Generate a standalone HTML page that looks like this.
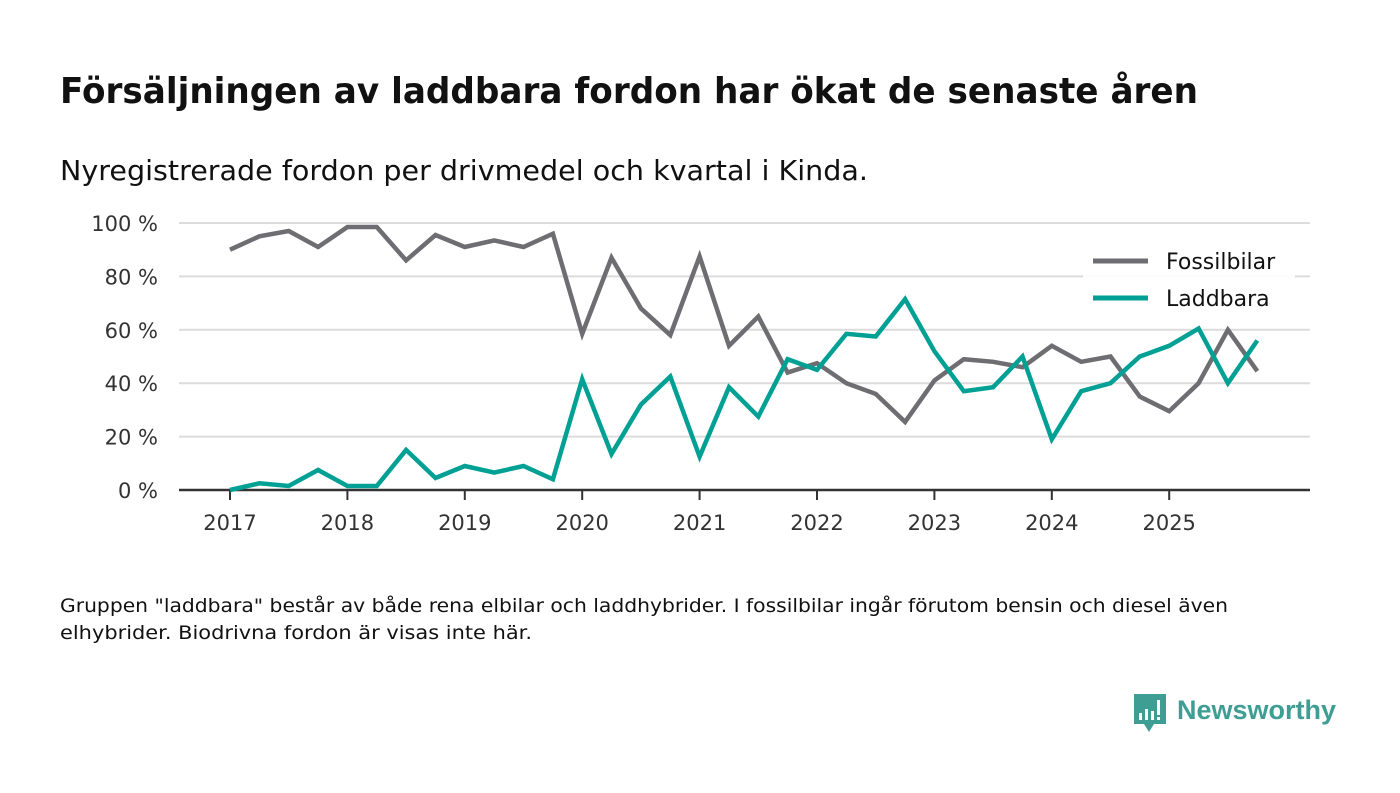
<!DOCTYPE html>
<html><head><meta charset="utf-8"><style>
html,body{margin:0;padding:0;background:#fff;}
svg{display:block;font-family:"DejaVu Sans","Liberation Sans",sans-serif;}
</style></head><body>
<svg id="chart" width="1400" height="793" viewBox="0 0 1400 793" xmlns="http://www.w3.org/2000/svg">
<text x="60" y="103" font-size="36" font-weight="bold" fill="#111" textLength="1138" lengthAdjust="spacingAndGlyphs">Försäljningen av laddbara fordon har ökat de senaste åren</text>
<text x="60" y="180" font-size="28" fill="#111" textLength="808" lengthAdjust="spacingAndGlyphs">Nyregistrerade fordon per drivmedel och kvartal i Kinda.</text>
<g id="grid"></g>
<g id="yaxis"></g>
<g id="xaxis"></g>
<g id="series"></g>
<g>
<rect x="1083" y="240" width="212" height="78" fill="#fff" opacity="0.9"/>
<g>
<line x1="1093" y1="261" x2="1148" y2="261" stroke="#6e6d72" stroke-width="5"/>
<text x="1166" y="269" font-size="22" fill="#111">Fossilbilar</text></g>
<g>
<line x1="1093" y1="298" x2="1148" y2="298" stroke="#00a194" stroke-width="5"/>
<text x="1166" y="306" font-size="22" fill="#111">Laddbara</text></g>
</g>
<text font-size="19" fill="#111"><tspan x="60" y="612" textLength="1168" lengthAdjust="spacingAndGlyphs">Gruppen "laddbara" består av både rena elbilar och laddhybrider. I fossilbilar ingår förutom bensin och diesel även</tspan><tspan x="60" y="639" textLength="472" lengthAdjust="spacingAndGlyphs">elhybrider. Biodrivna fordon är visas inte här.</tspan></text>
<g>
<path d="M1134 694 h32 v30 h-12 l-5 8 l-5 -8 h-10 z" fill="#3f9e94"/>
<rect x="1139" y="713" width="3" height="7" fill="#fff"/><rect x="1145" y="709" width="3" height="11" fill="#fff"/><rect x="1151" y="711" width="3" height="9" fill="#fff"/><rect x="1157" y="700" width="3" height="15" fill="#fff"/><rect x="1157" y="717" width="3" height="3" fill="#fff"/>
<text x="1177" y="719" font-size="27" font-weight="bold" fill="#3f9e94" font-family="Liberation Sans, sans-serif" textLength="159" lengthAdjust="spacingAndGlyphs">Newsworthy</text>
</g>
</svg>
<script>
const years = [2017,2018,2019,2020,2021,2022,2023,2024,2025];
const yTicks = [0,20,40,60,80,100];
const fossil = [90,95,97,91, 98.5,98.5,86,95.5, 91,93.5,91,96, 58.5,87,68,58, 87.5,54,65,44, 47.5,40,36,25.5, 41,49,48,46, 54,48,50,35, 29.5,40,60,44.5];
const laddbara = [0,2.5,1.5,7.5, 1.5,1.5,15,4.5, 9,6.5,9,4, 41.5,13.5,32,42.5, 12.5,38.5,27.5,49, 45,58.5,57.5,71.5, 52,37,38.5,50, 19,37,40,50, 54,60.5,40,56];
const NS="http://www.w3.org/2000/svg";
const x = t => 230 + t*117.4;           // t in years from 2017
const y = v => 490 - v*2.67;
function mk(tag, attrs, parent){const e=document.createElementNS(NS,tag);for(const k in attrs)e.setAttribute(k,attrs[k]);parent.appendChild(e);return e;}
const grid=document.getElementById('grid'), ya=document.getElementById('yaxis'), xa=document.getElementById('xaxis'), ser=document.getElementById('series');
yTicks.forEach(v=>{
  if(v>0){const l=mk('line',{x1:179,x2:1310,y1:y(v),y2:y(v),stroke:'#dcdcdc','stroke-width':2},grid);
  
  }
  const t=mk('text',{x:158,y:y(v)+8,'text-anchor':'end','font-size':21,fill:'#333'},ya);
  t.textContent=v+' %';
  
  
});
const ax=mk('line',{x1:179,x2:1310,y1:490,y2:490,stroke:'#333','stroke-width':2.5},xa);


years.forEach((yr,i)=>{
  const tk=mk('line',{x1:x(i),x2:x(i),y1:490,y2:500,stroke:'#333','stroke-width':2},xa);
  
  
  const t=mk('text',{x:x(i),y:530,'text-anchor':'middle','font-size':21,fill:'#333'},xa);
  t.textContent=yr;
  
  
});
function line(data,color,name){
  const d=data.map((v,i)=>(i?'L':'M')+x(i/4).toFixed(1)+' '+y(v).toFixed(1)).join(' ');
  const p=mk('path',{d:d,fill:'none',stroke:color,'stroke-width':4.5,'stroke-linejoin':'miter'},ser);
  
  
}
line(fossil,'#6e6d72','line-fossilbilar');
line(laddbara,'#00a194','line-laddbara');
</script>
</body></html>
